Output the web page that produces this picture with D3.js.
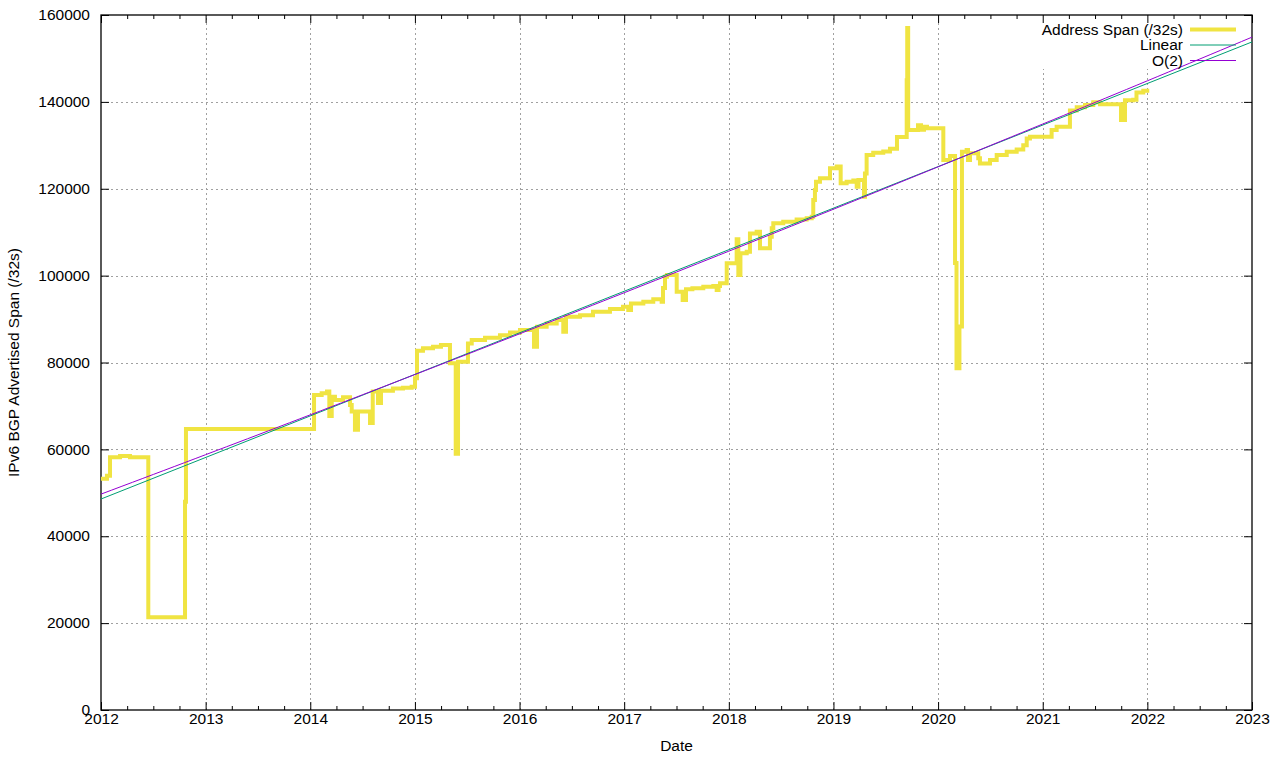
<!DOCTYPE html>
<html>
<head>
<meta charset="utf-8">
<script src="https://cdn.jsdelivr.net/npm/d3@7"></script>
<style>
  body { margin: 0; background: #fff; }
  svg text { font-family: "Liberation Sans", Arial, sans-serif; font-size: 15.5px; fill: #000; }
</style>
</head>
<body>
<div id="chart"></div>
<script>
// Address span samples: [decimal year, /32s]
const spanDates = [
  2012.000, 2012.057, 2012.086, 2012.182, 2012.277, 2012.452, 2012.803, 2012.812,
  2014.036, 2014.109, 2014.160, 2014.182, 2014.205, 2014.236, 2014.313, 2014.380,
  2014.396, 2014.427, 2014.456, 2014.571, 2014.597, 2014.647, 2014.676, 2014.790,
  2014.886, 2014.969, 2015.001, 2015.020, 2015.077, 2015.173, 2015.249, 2015.335,
  2015.390, 2015.412, 2015.507, 2015.543, 2015.670, 2015.813, 2015.909, 2016.004,
  2016.138, 2016.167, 2016.259, 2016.355, 2016.418, 2016.444, 2016.578, 2016.702,
  2016.864, 2016.989, 2017.039, 2017.065, 2017.183, 2017.278, 2017.358, 2017.371,
  2017.390, 2017.409, 2017.502, 2017.559, 2017.591, 2017.652, 2017.756, 2017.852,
  2017.884, 2017.902, 2017.916, 2017.980, 2018.075, 2018.091, 2018.111, 2018.171,
  2018.202, 2018.266, 2018.298, 2018.393, 2018.410, 2018.425, 2018.520, 2018.648,
  2018.744, 2018.792, 2018.807, 2018.823, 2018.833, 2018.871, 2018.967, 2019.031,
  2019.069, 2019.126, 2019.190, 2019.222, 2019.239, 2019.292, 2019.301, 2019.317,
  2019.380, 2019.476, 2019.540, 2019.607, 2019.700, 2019.705, 2019.714, 2019.808,
  2019.837, 2019.865, 2019.894, 2020.050, 2020.114, 2020.162, 2020.176, 2020.204,
  2020.228, 2020.273, 2020.286, 2020.305, 2020.384, 2020.400, 2020.496, 2020.560,
  2020.656, 2020.751, 2020.814, 2020.847, 2020.878, 2021.085, 2021.133, 2021.260,
  2021.325, 2021.404, 2021.483, 2021.547, 2021.748, 2021.786, 2021.865, 2021.896,
  2021.961, 2022.018
];
const spanValues = [
  53250, 53900, 58170, 58470, 58200, 21340, 47950, 64700,
  72520, 72900, 73300, 67700, 72130, 71370, 72000, 70200,
  68700, 64500, 68700, 66100, 73300, 70700, 73500, 74000,
  74200, 74430, 76400, 82700, 83270, 83600, 84030, 79800,
  59000, 80200, 84400, 85200, 85700, 86300, 86900, 87480,
  83650, 88250, 89000, 89790, 87100, 90550, 90900, 91700,
  92300, 92850, 92100, 93600, 94000, 94540, 94000, 97150,
  99750, 100150, 96300, 94400, 96850, 97100, 97450, 97600,
  96700, 97600, 98230, 102830, 108360, 100150, 105130, 105500,
  109700, 110100, 106300, 108970, 110900, 112050, 112400, 112900,
  113200, 113580, 117400, 119700, 121640, 122400, 124700, 125100,
  121260, 121640, 121900, 120460, 122000, 118170, 123530, 127770,
  128300, 128600, 129200, 131900, 145000, 157000, 133530, 134600,
  133600, 134300, 133900, 126600, 127540, 102900, 78700, 88300,
  128500, 128900, 126600, 128150, 127000, 125840, 126600, 127770,
  128500, 129060, 130000, 131550, 132000, 133500, 134300, 138000,
  138740, 139280, 139900, 139440, 135830, 140360, 140500, 142170,
  142550, 142550
];

// Linear fit, end values
const linearDates = [2012, 2023];
const linearValues = [48570, 153800];

// O(2) fit, three values (start, middle, end)
const quadDates = [2012, 2017.5, 2023];
const quadValues = [49700, 100830, 154900];

const yearTicks = d3.range(2012, 2024);
const quarterTicks = d3.range(2012, 2023.01, 0.25).filter(d => d % 1 !== 0);
const valueTicks = d3.range(0, 160001, 20000);

const width = 1280, height = 760;
const margin = { left: 101, right: 28, top: 15, bottom: 50 };
const plotW = width - margin.left - margin.right;
const plotH = height - margin.top - margin.bottom;

const svg = d3.select("#chart").append("svg")
  .attr("width", width)
  .attr("height", height);

const x = d3.scaleLinear().domain([2012, 2023]).range([margin.left, margin.left + plotW]);
const y = d3.scaleLinear().domain([0, 160000]).range([margin.top + plotH, margin.top]);

// grid
const grid = svg.append("g")
  .attr("stroke", "#a0a0a0")
  .attr("stroke-width", 1)
  .attr("stroke-dasharray", "2,3");
grid.selectAll(".gx").data(yearTicks.slice(1, -1)).join("line")
  .attr("x1", d => Math.round(x(d)) + 0.5).attr("x2", d => Math.round(x(d)) + 0.5)
  .attr("y1", y(0)).attr("y2", y(160000));
grid.selectAll(".gy").data(valueTicks.slice(1, -1)).join("line")
  .attr("y1", d => Math.round(y(d)) + 0.5).attr("y2", d => Math.round(y(d)) + 0.5)
  .attr("x1", x(2012)).attr("x2", x(2023));

// opaque key background
svg.append("rect")
  .attr("x", 1022).attr("y", margin.top + 1)
  .attr("width", 228).attr("height", 53)
  .attr("fill", "#fff");

// axes (gnuplot style: ticks inward, mirrored)
const bottomAxis = d3.axisBottom(x).tickValues(yearTicks).tickFormat(d3.format("d")).tickSizeInner(-8).tickSizeOuter(0);
const bottomMinor = d3.axisBottom(x).tickValues(quarterTicks).tickFormat("").tickSizeInner(-4).tickSizeOuter(0);
const topAxis = d3.axisTop(x).tickValues(yearTicks).tickFormat("").tickSizeInner(-8).tickSizeOuter(0);
const topMinor = d3.axisTop(x).tickValues(quarterTicks).tickFormat("").tickSizeInner(-4).tickSizeOuter(0);
const leftAxis = d3.axisLeft(y).tickValues(valueTicks).tickFormat(d3.format("d")).tickSizeInner(-8).tickSizeOuter(0);
const rightAxis = d3.axisRight(y).tickValues(valueTicks).tickFormat("").tickSizeInner(-8).tickSizeOuter(0);

function styleAxis(g) {
  g.select(".domain").remove();
  g.selectAll("line").attr("stroke", "#000");
  g.selectAll("text").attr("font-family", null).attr("font-size", null).attr("fill", "#000");
}

svg.append("g").attr("transform", `translate(0,${y(0)})`).call(bottomAxis).call(styleAxis)
  .selectAll("text").attr("dy", null).attr("y", 14);
svg.append("g").attr("transform", `translate(0,${y(0)})`).call(bottomMinor).call(styleAxis);
svg.append("g").attr("transform", `translate(0,${y(160000)})`).call(topAxis).call(styleAxis);
svg.append("g").attr("transform", `translate(0,${y(160000)})`).call(topMinor).call(styleAxis);
svg.append("g").attr("transform", `translate(${x(2012)},0)`).call(leftAxis).call(styleAxis)
  .selectAll("text").attr("x", -11).attr("dy", "0.3em");
svg.append("g").attr("transform", `translate(${x(2023)},0)`).call(rightAxis).call(styleAxis);

// border
svg.append("rect")
  .attr("x", x(2012)).attr("y", y(160000))
  .attr("width", x(2023) - x(2012)).attr("height", y(0) - y(160000))
  .attr("fill", "none").attr("stroke", "#000").attr("stroke-width", 1.3);

// series
const spanData = spanDates.map((d, i) => [d, spanValues[i]]);
const spanLine = d3.line().x(d => x(d[0])).y(d => y(d[1])).curve(d3.curveStepAfter);
svg.append("path")
  .datum(spanData)
  .attr("d", spanLine)
  .attr("fill", "none")
  .attr("stroke", "#f0e442")
  .attr("stroke-width", 4)
  .attr("stroke-linejoin", "miter");

const linearData = linearDates.map((d, i) => [d, linearValues[i]]);
svg.append("path")
  .datum(linearData)
  .attr("d", d3.line().x(d => x(d[0])).y(d => y(d[1])))
  .attr("fill", "none")
  .attr("stroke", "#009e73")
  .attr("stroke-width", 1);

// quadratic through the three read points
function quadAt(t) {
  const [t0, t1, t2] = quadDates, [v0, v1, v2] = quadValues;
  return v0 * (t - t1) * (t - t2) / ((t0 - t1) * (t0 - t2))
       + v1 * (t - t0) * (t - t2) / ((t1 - t0) * (t1 - t2))
       + v2 * (t - t0) * (t - t1) / ((t2 - t0) * (t2 - t1));
}
const quadData = d3.range(2012, 2023.001, 0.1).map(t => [t, quadAt(t)]);
svg.append("path")
  .datum(quadData)
  .attr("d", d3.line().x(d => x(d[0])).y(d => y(d[1])))
  .attr("fill", "none")
  .attr("stroke", "#9400d3")
  .attr("stroke-width", 1);

// legend
const legendItems = [
  { label: "Address Span (/32s)", color: "#f0e442", w: 4 },
  { label: "Linear", color: "#009e73", w: 1 },
  { label: "O(2)", color: "#9400d3", w: 1 }
];
const legend = svg.append("g");
legendItems.forEach((item, i) => {
  const cy = 29.5 + i * 15.5;
  legend.append("text")
    .attr("x", 1183).attr("y", cy)
    .attr("dy", "0.35em")
    .attr("text-anchor", "end")
    .text(item.label);
  legend.append("line")
    .attr("x1", 1190).attr("x2", 1236)
    .attr("y1", cy).attr("y2", cy)
    .attr("stroke", item.color)
    .attr("stroke-width", item.w);
});

// axis titles
svg.append("text")
  .attr("x", (x(2012) + x(2023)) / 2).attr("y", 751)
  .attr("text-anchor", "middle")
  .text("Date");
svg.append("text")
  .attr("transform", `translate(19,${(y(0) + y(160000)) / 2}) rotate(-90)`)
  .attr("text-anchor", "middle")
  .text("IPv6 BGP Advertised Span (/32s)");
</script>
</body>
</html>
